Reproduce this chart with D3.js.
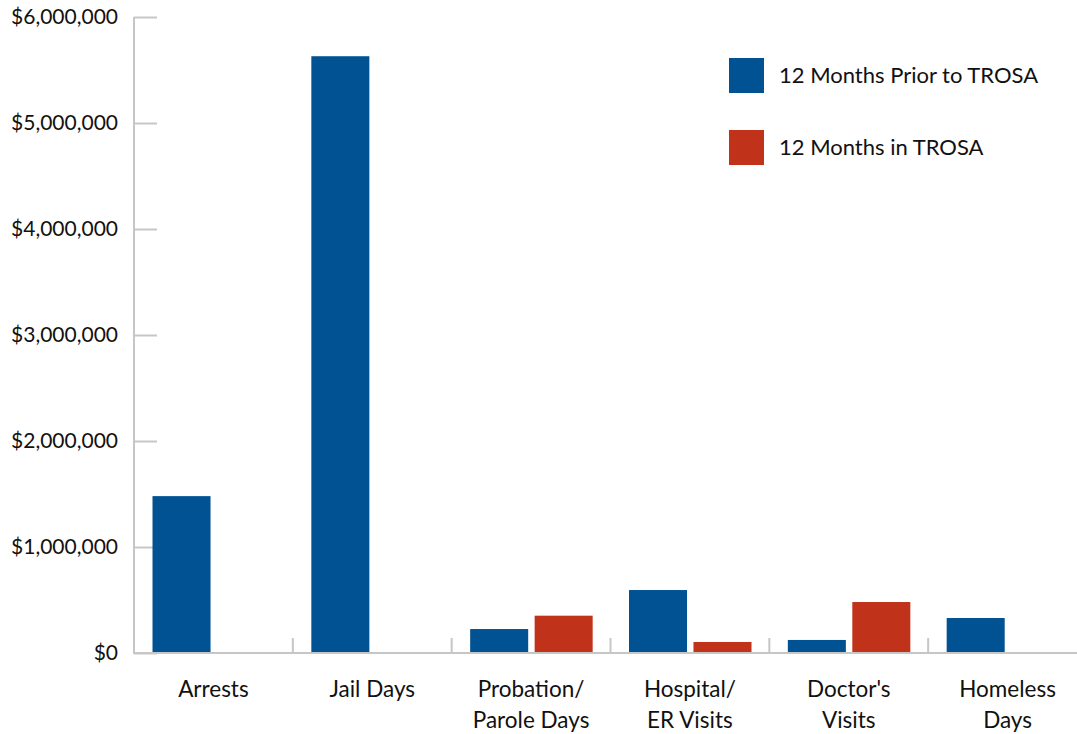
<!DOCTYPE html>
<html><head><meta charset="utf-8">
<script src="https://cdn.jsdelivr.net/npm/d3@7"></script>
<style>body{margin:0;background:#fff;} svg{display:block;} text{font-family:Lato,"Noto Sans",sans-serif;fill:#111;}</style>
</head><body>
<svg id="c" width="1077" height="734"></svg>
<script>
const categories = [["Arrests"],["Jail Days"],["Probation/","Parole Days"],["Hospital/","ER Visits"],["Doctor's","Visits"],["Homeless","Days"]];
const seriesNames = ["12 Months Prior to TROSA","12 Months in TROSA"];
const priorValues = [1480000, 5630000, 226000, 594000, 123000, 330000];
const inValues = [0, 0, 352000, 104000, 481000, 0];
const yTicks = [0,1000000,2000000,3000000,4000000,5000000,6000000];
const colors = ["#005293","#c1321b"];

const svg = d3.select("#c");
const catKeys = categories.map(c=>c.join(" "));
const x = d3.scaleBand().domain(catKeys).range([134,1087]).padding(0);
const x1 = d3.scaleBand().domain(seriesNames).range([18.5,141]).paddingInner(0.1);
const y = d3.scaleLinear().domain([0,6000000]).range([653,17]);
const axisColor = "#c6c6c6";

// y axis
const yAxis = d3.axisRight(y).tickValues(yTicks).tickSize(23).tickFormat("");
const gy = svg.append("g").attr("transform","translate(134,0)").call(yAxis);
gy.select(".domain").attr("stroke",axisColor).attr("stroke-width",2).attr("d","M0,17V653");
gy.selectAll(".tick line").attr("stroke",axisColor).attr("stroke-width",2);
svg.append("g").selectAll("text").data(yTicks).join("text")
  .attr("x",118).attr("y",d=>y(d)).attr("dy","0.35em").attr("text-anchor","end")
  .attr("font-size",21).text(d=>"$"+d3.format(",")(d));

// bars
const data = catKeys.map((k,i)=>({k, vals:[priorValues[i], inValues[i]]}));
const g = svg.append("g");
g.selectAll("g").data(data).join("g").attr("transform",d=>`translate(${x(d.k)},0)`)
  .selectAll("rect").data(d=>d.vals.map((v,j)=>({v, s:seriesNames[j], j})))
  .join("rect")
  .attr("x",d=>x1(d.s)).attr("width",x1.bandwidth())
  .attr("y",d=>y(d.v)).attr("height",d=>y(0)-y(d.v))
  .attr("fill",d=>colors[d.j]);

// x axis
const gx = svg.append("g").attr("transform","translate(0,653)");
gx.append("line").attr("x1",133).attr("x2",1077).attr("stroke",axisColor).attr("stroke-width",2);
gx.selectAll("line.t").data(catKeys.slice(1)).join("line").attr("class","t")
  .attr("x1",d=>x(d)).attr("x2",d=>x(d)).attr("y1",0).attr("y2",-15)
  .attr("stroke",axisColor).attr("stroke-width",2);
const lbl = svg.append("g").selectAll("text").data(categories).join("text")
  .attr("text-anchor","middle").attr("font-size",22.5)
  .attr("x",(d,i)=>x(catKeys[i])+x.bandwidth()/2).attr("y",697);
lbl.selectAll("tspan").data(d=>d).join("tspan")
  .attr("x",function(){return this.parentNode.getAttribute("x");})
  .attr("dy",(d,i)=>i?31:0).text(d=>d);

// legend
const leg = svg.append("g").selectAll("g").data(seriesNames).join("g")
  .attr("transform",(d,i)=>`translate(729,${58+i*72})`);
leg.append("rect").attr("width",35).attr("height",35).attr("fill",(d,i)=>colors[i]);
leg.append("text").attr("x",50).attr("y",25).attr("font-size",22).text(d=>d);
</script>
</body></html>
